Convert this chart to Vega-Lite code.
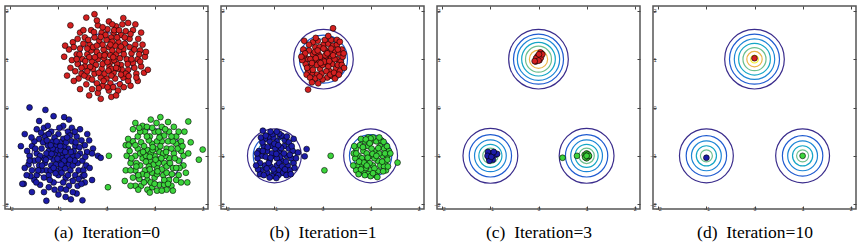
{
"$schema":"https://vega.github.io/schema/vega-lite/v6.json",
"background":"white",
"padding":{"left":0,"top":4,"right":0,"bottom":0},
"spacing":6,
"config":{"view":{"stroke":"#555","strokeWidth":1.5},
"axis":{"grid":false,"domain":false,"labelFont":"Liberation Sans","labelFontSize":5.5,"labelColor":"#444","tickColor":"#444","tickSize":-3,"tickWidth":1,"labelPadding":0,"titleFont":"Liberation Serif, Times New Roman, serif","titleFontSize":17.5,"titleFontWeight":"normal","titleColor":"#000","titlePadding":12}},
"datasets":{
"ra":[{"x":0,"y":1,"r":0.55,"l":1},{"x":-1,"y":-1,"r":0.55,"l":1},{"x":1.02,"y":-1,"r":0.56,"l":1}],
"rb":[{"x":0.02,"y":1,"r":0.62,"l":1},{"x":0.02,"y":1,"r":0.5,"l":2},{"x":0.02,"y":1,"r":0.42,"l":3},
{"x":-1,"y":-1,"r":0.56,"l":1},{"x":-1,"y":-1,"r":0.44,"l":2},{"x":-1,"y":-1,"r":0.36,"l":3},
{"x":1,"y":-1,"r":0.56,"l":1},{"x":1,"y":-1,"r":0.44,"l":2},{"x":1,"y":-1,"r":0.36,"l":3}],
"rc":[{"x":0,"y":1,"r":0.62,"l":1},{"x":0,"y":1,"r":0.52,"l":2},{"x":0,"y":1,"r":0.44,"l":3},{"x":0,"y":1,"r":0.35,"l":4},{"x":0,"y":1,"r":0.27,"l":5},{"x":0,"y":1,"r":0.19,"l":6},
{"x":-1,"y":-1,"r":0.57,"l":1},{"x":-1,"y":-1,"r":0.44,"l":2},{"x":-1,"y":-1,"r":0.33,"l":3},{"x":-1,"y":-1,"r":0.24,"l":4},{"x":-1,"y":-1,"r":0.16,"l":5},
{"x":1,"y":-1,"r":0.57,"l":1},{"x":1,"y":-1,"r":0.44,"l":2},{"x":1,"y":-1,"r":0.33,"l":3},{"x":1,"y":-1,"r":0.24,"l":4},{"x":1,"y":-1,"r":0.16,"l":5}],
"rd":[{"x":0,"y":1,"r":0.62,"l":1},{"x":0,"y":1,"r":0.52,"l":2},{"x":0,"y":1,"r":0.42,"l":3},{"x":0,"y":1,"r":0.33,"l":4},{"x":0,"y":1,"r":0.24,"l":5},{"x":0,"y":1,"r":0.16,"l":6},{"x":0,"y":1,"r":0.08,"l":7},
{"x":-1,"y":-1,"r":0.56,"l":1},{"x":-1,"y":-1,"r":0.42,"l":2},{"x":-1,"y":-1,"r":0.31,"l":3},{"x":-1,"y":-1,"r":0.21,"l":4},{"x":-1,"y":-1,"r":0.125,"l":5},
{"x":1,"y":-1,"r":0.56,"l":1},{"x":1,"y":-1,"r":0.42,"l":2},{"x":1,"y":-1,"r":0.31,"l":3},{"x":1,"y":-1,"r":0.21,"l":4},{"x":1,"y":-1,"r":0.125,"l":5}],
"pa":[
{"k":"r","x":-0.05,"y":1.02},{"k":"r","x":0.1,"y":0.95},{"k":"r","x":0.2,"y":1.1},{"k":"r","x":-0.2,"y":1.15},{"k":"r","x":-0.3,"y":0.95},{"k":"r","x":0.3,"y":0.88},{"k":"r","x":0.05,"y":1.25},{"k":"r","x":-0.1,"y":0.8},{"k":"r","x":0.15,"y":0.72},{"k":"r","x":-0.25,"y":0.7},
{"k":"r","x":0.35,"y":1.2},{"k":"r","x":-0.4,"y":1.1},{"k":"r","x":0.42,"y":1.0},{"k":"r","x":-0.45,"y":0.85},{"k":"r","x":0.0,"y":0.6},{"k":"r","x":0.25,"y":1.35},{"k":"r","x":-0.15,"y":1.38},{"k":"r","x":0.1,"y":1.45},{"k":"r","x":-0.35,"y":1.3},{"k":"r","x":0.45,"y":0.78},
{"k":"r","x":-0.02,"y":1.12},{"k":"r","x":0.12,"y":1.18},{"k":"r","x":0.28,"y":1.02},{"k":"r","x":-0.18,"y":1.0},{"k":"r","x":-0.08,"y":0.9},{"k":"r","x":0.06,"y":0.85},{"k":"r","x":0.22,"y":0.9},{"k":"r","x":-0.32,"y":1.18},{"k":"r","x":0.38,"y":1.32},{"k":"r","x":-0.5,"y":1.0},
{"k":"r","x":0.52,"y":1.12},{"k":"r","x":-0.55,"y":1.22},{"k":"r","x":0.55,"y":0.92},{"k":"r","x":-0.6,"y":0.9},{"k":"r","x":0.18,"y":0.6},{"k":"r","x":-0.12,"y":0.62},{"k":"r","x":-0.38,"y":0.62},{"k":"r","x":0.35,"y":0.62},{"k":"r","x":0.0,"y":1.4},{"k":"r","x":-0.25,"y":1.45},
{"k":"r","x":0.3,"y":1.5},{"k":"r","x":-0.45,"y":1.45},{"k":"r","x":0.48,"y":1.42},{"k":"r","x":0.6,"y":1.3},{"k":"r","x":-0.62,"y":1.1},{"k":"r","x":0.65,"y":1.0},{"k":"r","x":-0.65,"y":0.75},{"k":"r","x":0.62,"y":0.7},{"k":"r","x":0.08,"y":0.5},{"k":"r","x":-0.2,"y":0.5},
{"k":"r","x":0.28,"y":0.48},{"k":"r","x":-0.42,"y":0.48},{"k":"r","x":0.45,"y":0.55},{"k":"r","x":0.7,"y":1.18},{"k":"r","x":-0.7,"y":1.35},{"k":"r","x":0.15,"y":1.55},{"k":"r","x":-0.1,"y":1.55},{"k":"r","x":0.4,"y":1.58},{"k":"r","x":-0.32,"y":1.6},{"k":"r","x":0.02,"y":1.62},
{"k":"r","x":0.2,"y":1.68},{"k":"r","x":-0.18,"y":1.7},{"k":"r","x":0.55,"y":1.6},{"k":"r","x":-0.55,"y":1.55},{"k":"r","x":0.72,"y":0.85},{"k":"r","x":-0.72,"y":0.98},{"k":"r","x":0.8,"y":1.05},{"k":"r","x":-0.78,"y":1.2},{"k":"r","x":0.05,"y":0.35},{"k":"r","x":-0.3,"y":0.38},
{"k":"r","x":-0.06,"y":1.2},{"k":"r","x":0.08,"y":1.08},{"k":"r","x":0.16,"y":0.98},{"k":"r","x":-0.14,"y":1.08},{"k":"r","x":-0.22,"y":0.88},{"k":"r","x":0.02,"y":0.94},{"k":"r","x":0.32,"y":0.78},{"k":"r","x":-0.28,"y":0.8},{"k":"r","x":0.1,"y":0.8},{"k":"r","x":-0.04,"y":0.7},
{"k":"r","x":0.24,"y":0.8},{"k":"r","x":-0.36,"y":1.04},{"k":"r","x":0.36,"y":1.1},{"k":"r","x":0.18,"y":1.28},{"k":"r","x":-0.08,"y":1.3},{"k":"r","x":-0.28,"y":1.25},{"k":"r","x":0.48,"y":1.25},{"k":"r","x":-0.48,"y":1.32},{"k":"r","x":0.26,"y":1.18},{"k":"r","x":-0.16,"y":0.72},
{"k":"r","x":0.4,"y":0.7},{"k":"r","x":-0.52,"y":0.7},{"k":"r","x":0.58,"y":0.82},{"k":"r","x":-0.58,"y":0.6},{"k":"r","x":0.5,"y":0.45},{"k":"r","x":0.14,"y":0.42},{"k":"r","x":-0.08,"y":0.45},{"k":"r","x":0.12,"y":1.36},{"k":"r","x":-0.02,"y":1.5},{"k":"r","x":0.38,"y":1.45},
{"k":"r","x":-0.4,"y":1.22},{"k":"r","x":-0.6,"y":1.42},{"k":"r","x":0.66,"y":1.42},{"k":"r","x":0.75,"y":1.3},{"k":"r","x":-0.75,"y":0.82},{"k":"r","x":0.78,"y":0.72},{"k":"r","x":-0.68,"y":0.55},{"k":"r","x":0.24,"y":0.35},{"k":"r","x":-0.18,"y":0.3},{"k":"r","x":0.33,"y":1.72},
{"k":"r","x":-0.75,"y":1.7},{"k":"r","x":-0.42,"y":1.86},{"k":"r","x":-0.2,"y":1.8},{"k":"r","x":0.05,"y":1.78},{"k":"r","x":0.45,"y":1.75},{"k":"r","x":0.6,"y":1.72},{"k":"r","x":-0.86,"y":1.28},{"k":"r","x":0.86,"y":0.78},{"k":"r","x":-0.82,"y":0.66},{"k":"r","x":-0.36,"y":0.25},
{"k":"r","x":-0.12,"y":0.18},{"k":"r","x":0.1,"y":0.22},{"k":"r","x":0.2,"y":0.25},{"k":"r","x":-0.55,"y":0.38},{"k":"r","x":0.35,"y":1.85},{"k":"r","x":-0.25,"y":1.93},{"k":"r","x":0.72,"y":1.55},{"k":"r","x":0.82,"y":1.15},{"k":"r","x":-0.88,"y":1.05},{"k":"r","x":0.65,"y":0.55},
{"k":"r","x":-0.04,"y":1.08},{"k":"r","x":0.14,"y":1.04},{"k":"r","x":-0.24,"y":1.04},{"k":"r","x":0.04,"y":0.76},{"k":"r","x":-0.34,"y":0.84},{"k":"r","x":0.2,"y":0.82},{"k":"r","x":0.44,"y":0.9},{"k":"r","x":-0.44,"y":0.96},{"k":"r","x":0.3,"y":1.26},{"k":"r","x":-0.2,"y":1.28},
{"k":"r","x":0.08,"y":1.3},{"k":"r","x":-0.12,"y":1.46},{"k":"r","x":0.22,"y":1.45},{"k":"r","x":-0.38,"y":1.4},{"k":"r","x":0.52,"y":1.0},{"k":"r","x":-0.56,"y":1.1},{"k":"r","x":0.58,"y":1.2},{"k":"r","x":-0.52,"y":0.82},{"k":"r","x":0.1,"y":0.66},{"k":"r","x":-0.3,"y":0.58},
{"k":"r","x":0.3,"y":0.68},{"k":"r","x":-0.06,"y":0.55},{"k":"r","x":0.46,"y":0.65},{"k":"r","x":0.16,"y":1.6},{"k":"r","x":-0.26,"y":1.56},{"k":"r","x":0.5,"y":1.52},{"k":"r","x":-0.48,"y":1.6},{"k":"r","x":0.68,"y":1.1},{"k":"r","x":-0.68,"y":1.25},{"k":"r","x":0.02,"y":0.42},
{"k":"r","x":-0.16,"y":0.4},{"k":"r","x":0.36,"y":0.42},{"k":"r","x":-0.46,"y":0.66},{"k":"r","x":0.62,"y":0.62},{"k":"r","x":0.12,"y":1.72},{"k":"r","x":-0.08,"y":1.66},{"k":"r","x":0.26,"y":1.6},{"k":"r","x":-0.62,"y":1.0},{"k":"r","x":0.7,"y":0.95},{"k":"r","x":-0.4,"y":0.75},
{"k":"b","x":-1.0,"y":-1.0},{"k":"b","x":-0.9,"y":-0.95},{"k":"b","x":-1.1,"y":-1.08},{"k":"b","x":-0.85,"y":-1.15},{"k":"b","x":-1.2,"y":-0.9},{"k":"b","x":-0.95,"y":-1.25},{"k":"b","x":-1.15,"y":-1.2},{"k":"b","x":-0.8,"y":-0.85},{"k":"b","x":-1.05,"y":-0.8},{"k":"b","x":-1.3,"y":-1.05},
{"k":"b","x":-0.7,"y":-1.0},{"k":"b","x":-1.25,"y":-1.3},{"k":"b","x":-0.75,"y":-1.3},{"k":"b","x":-1.0,"y":-1.4},{"k":"b","x":-1.35,"y":-0.85},{"k":"b","x":-0.65,"y":-0.8},{"k":"b","x":-1.12,"y":-0.7},{"k":"b","x":-0.9,"y":-0.65},{"k":"b","x":-1.4,"y":-1.2},{"k":"b","x":-0.6,"y":-1.15},
{"k":"b","x":-0.98,"y":-1.12},{"k":"b","x":-1.08,"y":-0.95},{"k":"b","x":-0.92,"y":-1.05},{"k":"b","x":-1.18,"y":-1.02},{"k":"b","x":-0.82,"y":-1.02},{"k":"b","x":-1.02,"y":-0.88},{"k":"b","x":-0.88,"y":-0.8},{"k":"b","x":-1.22,"y":-0.78},{"k":"b","x":-0.72,"y":-0.7},{"k":"b","x":-1.45,"y":-0.95},
{"k":"b","x":-0.55,"y":-0.95},{"k":"b","x":-1.5,"y":-1.1},{"k":"b","x":-0.58,"y":-1.3},{"k":"b","x":-1.3,"y":-1.45},{"k":"b","x":-0.85,"y":-1.45},{"k":"b","x":-1.1,"y":-1.55},{"k":"b","x":-0.7,"y":-1.52},{"k":"b","x":-1.45,"y":-1.4},{"k":"b","x":-0.5,"y":-1.1},{"k":"b","x":-1.55,"y":-0.8},
{"k":"b","x":-0.62,"y":-0.6},{"k":"b","x":-1.28,"y":-0.6},{"k":"b","x":-1.0,"y":-0.55},{"k":"b","x":-0.8,"y":-0.5},{"k":"b","x":-1.4,"y":-0.65},{"k":"b","x":-0.45,"y":-0.78},{"k":"b","x":-1.6,"y":-1.0},{"k":"b","x":-0.5,"y":-1.42},{"k":"b","x":-1.2,"y":-1.65},{"k":"b","x":-0.95,"y":-1.68},
{"k":"b","x":-0.78,"y":-1.62},{"k":"b","x":-1.38,"y":-1.6},{"k":"b","x":-0.6,"y":-1.62},{"k":"b","x":-1.55,"y":-1.3},{"k":"b","x":-0.42,"y":-1.2},{"k":"b","x":-1.62,"y":-1.18},{"k":"b","x":-1.15,"y":-0.5},{"k":"b","x":-0.72,"y":-0.42},{"k":"b","x":-0.9,"y":-0.38},{"k":"b","x":-1.3,"y":-0.42},
{"k":"b","x":-1.05,"y":-1.3},{"k":"b","x":-0.93,"y":-1.35},{"k":"b","x":-1.2,"y":-1.4},{"k":"b","x":-1.35,"y":-1.3},{"k":"b","x":-0.65,"y":-1.4},{"k":"b","x":-0.78,"y":-1.18},{"k":"b","x":-1.28,"y":-1.15},{"k":"b","x":-0.68,"y":-0.9},{"k":"b","x":-1.38,"y":-1.0},{"k":"b","x":-1.12,"y":-0.85},
{"k":"b","x":-0.95,"y":-0.88},{"k":"b","x":-0.84,"y":-0.72},{"k":"b","x":-1.08,"y":-0.62},{"k":"b","x":-0.76,"y":-0.58},{"k":"b","x":-1.2,"y":-0.55},{"k":"b","x":-0.52,"y":-0.68},{"k":"b","x":-0.4,"y":-0.92},{"k":"b","x":-1.5,"y":-0.7},{"k":"b","x":-1.65,"y":-0.9},{"k":"b","x":-1.5,"y":-1.5},
{"k":"b","x":-1.05,"y":-1.18},{"k":"b","x":-0.86,"y":-1.26},{"k":"b","x":-1.16,"y":-1.3},{"k":"b","x":-0.7,"y":-1.2},{"k":"b","x":-1.25,"y":-0.95},{"k":"b","x":-0.97,"y":-0.72},{"k":"b","x":-0.6,"y":-1.0},{"k":"b","x":-1.42,"y":-1.08},{"k":"b","x":-0.48,"y":-1.3},{"k":"b","x":-1.58,"y":-1.42},
{"k":"b","x":-0.62,"y":-1.78},{"k":"b","x":-1.0,"y":-1.8},{"k":"b","x":-1.3,"y":-1.75},{"k":"b","x":-0.85,"y":-1.85},{"k":"b","x":-0.45,"y":-1.55},{"k":"b","x":-1.7,"y":-1.25},{"k":"b","x":-1.72,"y":-1.58},{"k":"b","x":-0.4,"y":-0.55},{"k":"b","x":-0.55,"y":-0.45},{"k":"b","x":-1.45,"y":-0.45},
{"k":"b","x":-1.6,"y":0.0},{"k":"b","x":-1.27,"y":-0.05},{"k":"b","x":-1.1,"y":-0.18},{"k":"b","x":-0.88,"y":-0.2},{"k":"b","x":-0.78,"y":-0.25},{"k":"b","x":-1.4,"y":-0.28},{"k":"b","x":-0.28,"y":-0.85},{"k":"b","x":-0.3,"y":-0.95},{"k":"b","x":-0.18,"y":-1.0},{"k":"b","x":-0.12,"y":-1.04},
{"k":"b","x":-0.35,"y":-1.25},{"k":"b","x":-0.3,"y":-1.5},{"k":"b","x":-1.25,"y":-1.93},{"k":"b","x":-1.75,"y":-1.58},{"k":"b","x":-1.78,"y":-0.8},{"k":"b","x":-1.7,"y":-0.55},{"k":"b","x":-0.5,"y":-1.92},{"k":"b","x":-1.55,"y":-1.75},{"k":"b","x":-0.7,"y":-1.75},{"k":"b","x":-0.36,"y":-0.68},
{"k":"b","x":-1.02,"y":-1.06},{"k":"b","x":-0.88,"y":-1.1},{"k":"b","x":-1.14,"y":-0.96},{"k":"b","x":-0.96,"y":-0.8},{"k":"b","x":-1.26,"y":-1.08},{"k":"b","x":-0.74,"y":-0.92},{"k":"b","x":-1.06,"y":-1.36},{"k":"b","x":-0.8,"y":-1.4},{"k":"b","x":-1.32,"y":-0.72},{"k":"b","x":-0.64,"y":-0.72},
{"k":"b","x":-1.18,"y":-1.5},{"k":"b","x":-0.9,"y":-1.55},{"k":"b","x":-1.42,"y":-1.3},{"k":"b","x":-0.58,"y":-1.48},{"k":"b","x":-1.48,"y":-0.85},{"k":"b","x":-0.56,"y":-0.82},{"k":"b","x":-1.04,"y":-0.7},{"k":"b","x":-0.82,"y":-0.62},{"k":"b","x":-1.24,"y":-0.68},{"k":"b","x":-0.66,"y":-1.1},
{"k":"b","x":-1.34,"y":-1.2},{"k":"b","x":-0.76,"y":-1.08},{"k":"b","x":-1.1,"y":-1.25},{"k":"b","x":-0.94,"y":-1.18},{"k":"b","x":-1.16,"y":-0.78},{"k":"b","x":-0.86,"y":-0.92},{"k":"b","x":-1.46,"y":-1.55},{"k":"b","x":-0.52,"y":-1.58},{"k":"b","x":-1.36,"y":-0.52},{"k":"b","x":-0.66,"y":-0.5},
{"k":"b","x":-1.6,"y":-1.1},{"k":"b","x":-0.44,"y":-1.02},{"k":"b","x":-1.08,"y":-1.7},{"k":"b","x":-0.84,"y":-1.7},{"k":"b","x":-1.22,"y":-0.38},{"k":"b","x":-0.98,"y":-0.42},{"k":"b","x":-1.56,"y":-0.62},{"k":"b","x":-0.46,"y":-1.4},{"k":"b","x":-1.66,"y":-1.4},{"k":"b","x":-0.74,"y":-1.9},
{"k":"g","x":1.0,"y":-1.0},{"k":"g","x":1.1,"y":-0.92},{"k":"g","x":0.9,"y":-1.1},{"k":"g","x":1.2,"y":-1.15},{"k":"g","x":0.85,"y":-0.88},{"k":"g","x":1.05,"y":-1.25},{"k":"g","x":0.95,"y":-0.75},{"k":"g","x":1.25,"y":-0.85},{"k":"g","x":0.75,"y":-1.05},{"k":"g","x":1.3,"y":-1.05},
{"k":"g","x":1.15,"y":-0.7},{"k":"g","x":0.8,"y":-1.3},{"k":"g","x":1.38,"y":-1.25},{"k":"g","x":0.65,"y":-0.85},{"k":"g","x":1.0,"y":-1.45},{"k":"g","x":1.18,"y":-1.4},{"k":"g","x":0.7,"y":-1.2},{"k":"g","x":1.4,"y":-0.95},{"k":"g","x":0.9,"y":-0.6},{"k":"g","x":1.12,"y":-0.58},
{"k":"g","x":1.02,"y":-0.85},{"k":"g","x":0.92,"y":-0.95},{"k":"g","x":1.08,"y":-1.08},{"k":"g","x":0.98,"y":-1.18},{"k":"g","x":1.22,"y":-1.0},{"k":"g","x":0.82,"y":-1.0},{"k":"g","x":1.15,"y":-1.28},{"k":"g","x":0.88,"y":-1.22},{"k":"g","x":1.28,"y":-0.7},{"k":"g","x":0.72,"y":-0.72},
{"k":"g","x":0.6,"y":-1.0},{"k":"g","x":1.45,"y":-0.75},{"k":"g","x":0.6,"y":-1.3},{"k":"g","x":1.5,"y":-1.1},{"k":"g","x":0.85,"y":-1.5},{"k":"g","x":1.3,"y":-1.5},{"k":"g","x":0.68,"y":-1.48},{"k":"g","x":1.5,"y":-1.4},{"k":"g","x":0.55,"y":-0.7},{"k":"g","x":0.8,"y":-0.5},
{"k":"g","x":1.0,"y":-0.5},{"k":"g","x":1.3,"y":-0.5},{"k":"g","x":1.55,"y":-0.9},{"k":"g","x":0.5,"y":-1.15},{"k":"g","x":1.1,"y":-1.6},{"k":"g","x":0.95,"y":-1.65},{"k":"g","x":0.72,"y":-1.62},{"k":"g","x":1.35,"y":-1.62},{"k":"g","x":1.6,"y":-1.2},{"k":"g","x":0.48,"y":-0.9},
{"k":"g","x":1.05,"y":-0.7},{"k":"g","x":0.95,"y":-1.35},{"k":"g","x":1.25,"y":-1.22},{"k":"g","x":0.78,"y":-0.8},{"k":"g","x":1.35,"y":-0.85},{"k":"g","x":1.12,"y":-0.8},{"k":"g","x":0.88,"y":-0.68},{"k":"g","x":1.2,"y":-0.58},{"k":"g","x":0.65,"y":-0.6},{"k":"g","x":1.45,"y":-0.6},
{"k":"g","x":1.05,"y":-1.38},{"k":"g","x":0.9,"y":-1.28},{"k":"g","x":0.7,"y":-0.95},{"k":"g","x":1.32,"y":-1.15},{"k":"g","x":1.18,"y":-0.95},{"k":"g","x":0.96,"y":-0.88},{"k":"g","x":1.08,"y":-1.15},{"k":"g","x":1.42,"y":-1.05},{"k":"g","x":0.62,"y":-1.15},{"k":"g","x":0.82,"y":-1.12},
{"k":"g","x":1.25,"y":-1.35},{"k":"g","x":0.75,"y":-1.38},{"k":"g","x":0.55,"y":-1.45},{"k":"g","x":1.45,"y":-1.5},{"k":"g","x":1.6,"y":-1.0},{"k":"g","x":1.55,"y":-0.7},{"k":"g","x":0.42,"y":-1.0},{"k":"g","x":0.4,"y":-1.3},{"k":"g","x":0.45,"y":-0.65},{"k":"g","x":1.2,"y":-1.6},
{"k":"g","x":0.6,"y":-1.62},{"k":"g","x":0.85,"y":-1.7},{"k":"g","x":1.05,"y":-1.72},{"k":"g","x":1.25,"y":-1.7},{"k":"g","x":0.95,"y":-0.42},{"k":"g","x":1.15,"y":-0.4},{"k":"g","x":0.75,"y":-0.38},{"k":"g","x":1.4,"y":-0.4},{"k":"g","x":0.55,"y":-0.45},{"k":"g","x":1.62,"y":-0.5},
{"k":"g","x":1.12,"y":-0.2},{"k":"g","x":0.92,"y":-0.25},{"k":"g","x":1.28,"y":-0.3},{"k":"g","x":0.6,"y":-0.32},{"k":"g","x":1.7,"y":-0.29},{"k":"g","x":1.75,"y":-0.72},{"k":"g","x":2.0,"y":-0.87},{"k":"g","x":1.92,"y":-1.08},{"k":"g","x":0.05,"y":-1.0},{"k":"g","x":0.03,"y":-1.65},
{"k":"g","x":0.38,"y":-1.52},{"k":"g","x":0.4,"y":-0.78},{"k":"g","x":1.65,"y":-1.35},{"k":"g","x":1.68,"y":-1.55},{"k":"g","x":0.5,"y":-1.62},{"k":"g","x":1.7,"y":-0.95},
{"k":"g","x":1.02,"y":-1.08},{"k":"g","x":0.9,"y":-1.02},{"k":"g","x":1.14,"y":-1.05},{"k":"g","x":0.96,"y":-0.82},{"k":"g","x":1.24,"y":-0.92},{"k":"g","x":0.76,"y":-0.92},{"k":"g","x":1.06,"y":-1.32},{"k":"g","x":0.84,"y":-1.4},{"k":"g","x":1.36,"y":-1.38},{"k":"g","x":0.66,"y":-1.4},
{"k":"g","x":1.1,"y":-0.62},{"k":"g","x":0.84,"y":-0.6},{"k":"g","x":1.38,"y":-0.7},{"k":"g","x":0.6,"y":-0.78},{"k":"g","x":1.48,"y":-0.85},{"k":"g","x":0.52,"y":-1.05},{"k":"g","x":1.52,"y":-1.25},{"k":"g","x":0.62,"y":-1.22},{"k":"g","x":1.2,"y":-1.5},{"k":"g","x":0.92,"y":-1.55},
{"k":"g","x":1.08,"y":-0.5},{"k":"g","x":0.7,"y":-0.5},{"k":"g","x":1.35,"y":-0.6},{"k":"g","x":1.45,"y":-1.25},{"k":"g","x":0.78,"y":-1.55},{"k":"g","x":1.28,"y":-1.58},{"k":"g","x":1.0,"y":-1.58},{"k":"g","x":0.5,"y":-1.3},{"k":"g","x":1.58,"y":-0.8},{"k":"g","x":0.46,"y":-0.78},
{"k":"g","x":1.04,"y":-0.32},{"k":"g","x":0.84,"y":-0.4},{"k":"g","x":1.22,"y":-0.45},{"k":"g","x":0.68,"y":-0.42},{"k":"g","x":1.5,"y":-0.5},{"k":"g","x":1.55,"y":-1.55},{"k":"g","x":0.66,"y":-1.7},{"k":"g","x":1.15,"y":-1.72},{"k":"g","x":0.9,"y":-1.76},{"k":"g","x":1.38,"y":-1.72}],
"pb":[
{"k":"r","x":0.0,"y":1.0},{"k":"r","x":0.1,"y":1.05},{"k":"r","x":-0.1,"y":0.95},{"k":"r","x":0.2,"y":0.9},{"k":"r","x":-0.2,"y":1.1},{"k":"r","x":0.05,"y":1.2},{"k":"r","x":-0.05,"y":0.8},{"k":"r","x":0.25,"y":1.15},{"k":"r","x":-0.25,"y":0.85},{"k":"r","x":0.15,"y":0.75},
{"k":"r","x":-0.15,"y":1.25},{"k":"r","x":0.3,"y":1.0},{"k":"r","x":-0.3,"y":1.0},{"k":"r","x":0.08,"y":0.9},{"k":"r","x":-0.08,"y":1.1},{"k":"r","x":0.18,"y":1.02},{"k":"r","x":-0.18,"y":0.98},{"k":"r","x":0.02,"y":1.3},{"k":"r","x":-0.02,"y":0.7},{"k":"r","x":0.28,"y":0.8},
{"k":"r","x":-0.28,"y":1.18},{"k":"r","x":0.35,"y":1.12},{"k":"r","x":-0.35,"y":0.9},{"k":"r","x":0.12,"y":1.32},{"k":"r","x":-0.12,"y":0.68},{"k":"r","x":0.22,"y":1.28},{"k":"r","x":-0.22,"y":0.72},{"k":"r","x":0.38,"y":0.95},{"k":"r","x":-0.38,"y":1.08},{"k":"r","x":0.3,"y":1.3},
{"k":"r","x":-0.3,"y":0.75},{"k":"r","x":0.1,"y":0.62},{"k":"r","x":-0.1,"y":1.38},{"k":"r","x":0.2,"y":0.65},{"k":"r","x":-0.2,"y":1.35},{"k":"r","x":0.4,"y":1.2},{"k":"r","x":-0.4,"y":1.2},{"k":"r","x":0.36,"y":0.75},{"k":"r","x":-0.15,"y":0.6},{"k":"r","x":0.05,"y":1.4},
{"k":"r","x":0.12,"y":0.85},{"k":"r","x":-0.05,"y":1.05},{"k":"r","x":0.0,"y":0.88},{"k":"r","x":0.15,"y":1.15},{"k":"r","x":-0.12,"y":0.88},{"k":"r","x":0.25,"y":1.0},{"k":"r","x":-0.25,"y":1.0},{"k":"r","x":0.06,"y":1.08},{"k":"r","x":-0.16,"y":1.15},{"k":"r","x":0.32,"y":0.88},
{"k":"r","x":0.42,"y":1.05},{"k":"r","x":-0.42,"y":0.98},{"k":"r","x":0.18,"y":1.4},{"k":"r","x":-0.28,"y":1.3},{"k":"r","x":0.0,"y":0.58},{"k":"r","x":0.26,"y":0.6},{"k":"r","x":-0.06,"y":1.25},{"k":"r","x":0.08,"y":0.75},{"k":"r","x":-0.33,"y":0.68},{"k":"r","x":0.3,"y":1.4},
{"k":"r","x":0.04,"y":0.95},{"k":"r","x":-0.04,"y":0.92},{"k":"r","x":0.14,"y":0.96},{"k":"r","x":-0.14,"y":1.02},{"k":"r","x":0.22,"y":1.08},{"k":"r","x":-0.22,"y":0.92},{"k":"r","x":0.1,"y":1.12},{"k":"r","x":-0.1,"y":1.18},{"k":"r","x":0.32,"y":1.2},{"k":"r","x":-0.32,"y":0.82},
{"k":"r","x":0.16,"y":0.68},{"k":"r","x":-0.06,"y":0.64},{"k":"r","x":0.24,"y":0.72},{"k":"r","x":-0.36,"y":1.12},{"k":"r","x":0.4,"y":0.88},{"k":"r","x":0.02,"y":1.22},{"k":"r","x":0.18,"y":1.22},{"k":"r","x":-0.2,"y":0.78},{"k":"r","x":0.34,"y":0.68},{"k":"r","x":-0.26,"y":0.62},
{"k":"r","x":0.12,"y":1.48},{"k":"r","x":-0.14,"y":1.44},{"k":"r","x":0.36,"y":1.36},{"k":"r","x":-0.44,"y":1.05},{"k":"r","x":0.44,"y":1.12},
{"k":"r","x":0.22,"y":1.64},{"k":"r","x":-0.3,"y":0.37},{"k":"r","x":-0.22,"y":0.52},{"k":"r","x":-0.09,"y":0.5},{"k":"r","x":-0.38,"y":1.38},{"k":"r","x":0.45,"y":0.82},
{"k":"b","x":-1.0,"y":-1.0},{"k":"b","x":-0.9,"y":-0.9},{"k":"b","x":-1.1,"y":-1.1},{"k":"b","x":-0.85,"y":-1.1},{"k":"b","x":-1.15,"y":-0.9},{"k":"b","x":-0.95,"y":-1.2},{"k":"b","x":-1.05,"y":-0.8},{"k":"b","x":-0.75,"y":-1.0},{"k":"b","x":-1.25,"y":-1.0},{"k":"b","x":-0.8,"y":-0.8},
{"k":"b","x":-1.2,"y":-1.2},{"k":"b","x":-0.9,"y":-1.3},{"k":"b","x":-1.1,"y":-0.7},{"k":"b","x":-0.7,"y":-0.85},{"k":"b","x":-1.3,"y":-1.15},{"k":"b","x":-0.72,"y":-1.2},{"k":"b","x":-1.22,"y":-0.8},{"k":"b","x":-1.0,"y":-1.35},{"k":"b","x":-0.95,"y":-0.7},{"k":"b","x":-0.82,"y":-1.35},
{"k":"b","x":-1.15,"y":-1.35},{"k":"b","x":-1.32,"y":-0.9},{"k":"b","x":-0.65,"y":-1.05},{"k":"b","x":-0.98,"y":-0.85},{"k":"b","x":-1.08,"y":-1.22},{"k":"b","x":-0.88,"y":-1.02},{"k":"b","x":-1.18,"y":-1.02},{"k":"b","x":-0.78,"y":-0.68},{"k":"b","x":-1.02,"y":-0.62},{"k":"b","x":-1.28,"y":-1.3},
{"k":"b","x":-0.62,"y":-0.9},{"k":"b","x":-0.68,"y":-1.3},{"k":"b","x":-1.35,"y":-1.05},{"k":"b","x":-0.92,"y":-1.4},{"k":"b","x":-1.12,"y":-0.6},{"k":"b","x":-0.88,"y":-0.6},{"k":"b","x":-1.2,"y":-0.65},{"k":"b","x":-0.6,"y":-1.15},{"k":"b","x":-1.05,"y":-1.42},{"k":"b","x":-0.85,"y":-0.58},
{"k":"b","x":-0.95,"y":-1.05},{"k":"b","x":-1.05,"y":-0.95},{"k":"b","x":-0.8,"y":-0.95},{"k":"b","x":-1.12,"y":-1.15},{"k":"b","x":-0.9,"y":-1.15},{"k":"b","x":-1.25,"y":-0.72},{"k":"b","x":-0.75,"y":-1.4},{"k":"b","x":-1.3,"y":-1.38},{"k":"b","x":-0.7,"y":-0.72},{"k":"b","x":-1.0,"y":-0.75},
{"k":"b","x":-0.96,"y":-0.96},{"k":"b","x":-1.08,"y":-1.04},{"k":"b","x":-0.86,"y":-0.84},{"k":"b","x":-1.16,"y":-1.26},{"k":"b","x":-0.76,"y":-1.12},{"k":"b","x":-1.24,"y":-0.9},{"k":"b","x":-0.84,"y":-1.22},{"k":"b","x":-1.02,"y":-1.28},{"k":"b","x":-0.92,"y":-0.78},{"k":"b","x":-1.14,"y":-0.82},
{"k":"b","x":-0.68,"y":-0.98},{"k":"b","x":-1.36,"y":-0.95},{"k":"b","x":-0.78,"y":-1.28},{"k":"b","x":-1.1,"y":-1.45},{"k":"b","x":-0.64,"y":-0.8},{"k":"b","x":-1.28,"y":-0.62},{"k":"b","x":-0.96,"y":-1.46},{"k":"b","x":-1.18,"y":-0.58},{"k":"b","x":-0.74,"y":-0.6},{"k":"b","x":-0.58,"y":-1.25},
{"k":"b","x":-1.34,"y":-1.28},{"k":"b","x":-0.9,"y":-0.54},{"k":"b","x":-1.04,"y":-0.55},{"k":"b","x":-0.66,"y":-1.38},{"k":"b","x":-1.22,"y":-1.4},
{"k":"b","x":-1.24,"y":-0.48},{"k":"b","x":-1.08,"y":-0.5},{"k":"b","x":-0.95,"y":-0.5},{"k":"b","x":-0.51,"y":-0.93},{"k":"b","x":-0.33,"y":-0.86},{"k":"b","x":-0.37,"y":-1.01},{"k":"b","x":-0.55,"y":-1.05},{"k":"b","x":-1.38,"y":-1.2},{"k":"b","x":-0.6,"y":-0.65},
{"k":"g","x":1.0,"y":-1.0},{"k":"g","x":1.1,"y":-0.9},{"k":"g","x":0.9,"y":-1.1},{"k":"g","x":1.15,"y":-1.1},{"k":"g","x":0.85,"y":-0.9},{"k":"g","x":1.05,"y":-1.2},{"k":"g","x":0.95,"y":-0.8},{"k":"g","x":1.25,"y":-1.0},{"k":"g","x":0.75,"y":-1.0},{"k":"g","x":1.2,"y":-0.8},
{"k":"g","x":0.8,"y":-1.2},{"k":"g","x":1.0,"y":-1.3},{"k":"g","x":1.0,"y":-0.72},{"k":"g","x":1.3,"y":-1.15},{"k":"g","x":0.7,"y":-0.85},{"k":"g","x":1.28,"y":-0.85},{"k":"g","x":0.72,"y":-1.2},{"k":"g","x":1.15,"y":-1.32},{"k":"g","x":0.85,"y":-1.32},{"k":"g","x":0.88,"y":-0.7},
{"k":"g","x":1.12,"y":-0.7},{"k":"g","x":1.35,"y":-1.0},{"k":"g","x":0.68,"y":-1.05},{"k":"g","x":0.92,"y":-0.95},{"k":"g","x":1.08,"y":-1.05},{"k":"g","x":0.98,"y":-1.15},{"k":"g","x":1.02,"y":-0.85},{"k":"g","x":1.2,"y":-1.2},{"k":"g","x":0.82,"y":-1.05},{"k":"g","x":1.18,"y":-0.95},
{"k":"g","x":0.78,"y":-0.78},{"k":"g","x":1.22,"y":-0.68},{"k":"g","x":0.95,"y":-1.38},{"k":"g","x":1.1,"y":-1.4},{"k":"g","x":0.7,"y":-1.3},{"k":"g","x":1.32,"y":-1.3},{"k":"g","x":0.65,"y":-0.95},{"k":"g","x":0.9,"y":-1.25},{"k":"g","x":1.05,"y":-0.62},{"k":"g","x":0.8,"y":-0.65},
{"k":"g","x":1.28,"y":-1.22},{"k":"g","x":0.75,"y":-1.38},{"k":"g","x":1.38,"y":-0.9},{"k":"g","x":1.0,"y":-1.42},{"k":"g","x":0.95,"y":-0.62},
{"k":"g","x":1.04,"y":-0.96},{"k":"g","x":0.94,"y":-1.04},{"k":"g","x":1.12,"y":-1.0},{"k":"g","x":0.86,"y":-1.14},{"k":"g","x":1.16,"y":-0.84},{"k":"g","x":0.84,"y":-0.82},{"k":"g","x":1.08,"y":-1.26},{"k":"g","x":0.92,"y":-1.2},{"k":"g","x":1.24,"y":-1.12},{"k":"g","x":0.76,"y":-1.12},
{"k":"g","x":1.3,"y":-0.95},{"k":"g","x":0.7,"y":-0.95},{"k":"g","x":1.0,"y":-0.64},{"k":"g","x":1.18,"y":-0.62},{"k":"g","x":0.9,"y":-0.66},{"k":"g","x":1.26,"y":-1.32},{"k":"g","x":0.8,"y":-1.28},{"k":"g","x":1.05,"y":-1.36},{"k":"g","x":0.66,"y":-0.8},{"k":"g","x":1.34,"y":-0.8},
{"k":"g","x":0.64,"y":-1.2},{"k":"g","x":1.36,"y":-1.22},{"k":"g","x":0.88,"y":-1.4},{"k":"g","x":1.14,"y":-1.44},{"k":"g","x":0.98,"y":-0.74},
{"k":"g","x":1.27,"y":-0.71},{"k":"g","x":1.41,"y":-0.95},{"k":"g","x":1.56,"y":-1.14},{"k":"g","x":1.35,"y":-1.08},{"k":"g","x":0.17,"y":-1.0},{"k":"g","x":0.04,"y":-1.3}],
"pc":[
{"k":"r","x":-0.06,"y":0.95},{"k":"r","x":-0.03,"y":1.0},{"k":"r","x":0.0,"y":1.04},{"k":"r","x":0.03,"y":1.08},{"k":"r","x":0.06,"y":1.12},{"k":"r","x":0.02,"y":0.98},{"k":"r","x":-0.02,"y":1.06},{"k":"r","x":0.05,"y":1.03},{"k":"r","x":-0.05,"y":1.02},{"k":"r","x":0.0,"y":0.97},{"k":"r","x":0.04,"y":1.14},{"k":"r","x":0.08,"y":1.1},{"k":"r","x":-0.08,"y":0.96},{"k":"r","x":0.01,"y":1.1},
{"k":"b","x":-1.0,"y":-1.0},{"k":"b","x":-1.03,"y":-1.05},{"k":"b","x":-0.97,"y":-0.95},{"k":"b","x":-1.05,"y":-0.92},{"k":"b","x":-0.95,"y":-1.08},{"k":"b","x":-1.02,"y":-1.1},{"k":"b","x":-0.9,"y":-0.98},{"k":"b","x":-0.86,"y":-0.96},{"k":"b","x":-1.06,"y":-1.0},{"k":"b","x":-0.98,"y":-1.02},{"k":"b","x":-0.93,"y":-0.92},
{"k":"g","x":0.5,"y":-1.04},{"k":"g","x":0.8,"y":-1.0},{"k":"g","x":0.96,"y":-0.98},{"k":"g","x":1.04,"y":-1.02},{"k":"g","x":1.0,"y":-0.95},{"k":"g","x":1.0,"y":-1.05},{"k":"g","x":0.97,"y":-1.03},{"k":"g","x":1.03,"y":-0.97},{"k":"g","x":1.05,"y":-1.0},{"k":"g","x":1.0,"y":-1.0}],
"pd":[{"k":"r","x":0.0,"y":1.02},{"k":"b","x":-1.0,"y":-1.04},{"k":"g","x":1.0,"y":-1.0}]
},
"hconcat":[
{"width":203,"height":203,"resolve":{"axis":{"x":"independent","y":"independent"}},"layer":[
{"data":{"name":"ra"},"mark":{"type":"point","shape":"circle","filled":false,"opacity":1,"strokeWidth":1.2},
"encoding":{"x":{"field":"x","type":"quantitative","scale":{"domain":[-2.11,2.11],"nice":false,"zero":false},"axis":{"orient":"top","labels":false,"values":[-2,-1,0,1,2],"title":null}},
"y":{"field":"y","type":"quantitative","scale":{"domain":[-2.1,2.1],"nice":false,"zero":false},"axis":{"orient":"right","labels":false,"values":[-2,-1,0,1,2],"title":null}},
"size":{"field":"r","type":"quantitative","scale":{"type":"pow","exponent":2,"domain":[0,1],"range":[0,9254]},"legend":null},
"color":{"field":"l","type":"ordinal","scale":{"domain":[1,2,3,4,5,6,7],"range":["#3A2C8C","#1F5BD0","#1C86D6","#14A6C6","#6CBF8E","#EBB447","#F4EE2A"]},"legend":null}}},
{"data":{"name":"pa"},"mark":{"type":"point","shape":"circle","filled":true,"opacity":1,"stroke":"#000","strokeWidth":0.6,"size":34},
"encoding":{"x":{"field":"x","type":"quantitative","scale":{"domain":[-2.11,2.11],"nice":false,"zero":false},"axis":{"orient":"bottom","values":[-2,-1,0,1,2],"title":"(a)\u00a0 Iteration=0","titleFont":"Liberation Serif, Times New Roman, serif"}},
"y":{"field":"y","type":"quantitative","scale":{"domain":[-2.1,2.1],"nice":false,"zero":false},"axis":{"orient":"left","values":[-2,-1,0,1,2],"title":null}},
"fill":{"field":"k","type":"nominal","scale":{"domain":["r","b","g"],"range":["#D42020","#1C1CA8","#3CD43C"]},"legend":null}}}]},
{"width":203,"height":203,"resolve":{"axis":{"x":"independent","y":"independent"}},"layer":[
{"data":{"name":"rb"},"mark":{"type":"point","shape":"circle","filled":false,"opacity":1,"strokeWidth":1.2},
"encoding":{"x":{"field":"x","type":"quantitative","scale":{"domain":[-2.11,2.11],"nice":false,"zero":false},"axis":{"orient":"top","labels":false,"values":[-2,-1,0,1,2],"title":null}},
"y":{"field":"y","type":"quantitative","scale":{"domain":[-2.1,2.1],"nice":false,"zero":false},"axis":{"orient":"right","labels":false,"values":[-2,-1,0,1,2],"title":null}},
"size":{"field":"r","type":"quantitative","scale":{"type":"pow","exponent":2,"domain":[0,1],"range":[0,9254]},"legend":null},
"color":{"field":"l","type":"ordinal","scale":{"domain":[1,2,3,4,5,6,7],"range":["#3A2C8C","#1F5BD0","#1C86D6","#14A6C6","#6CBF8E","#EBB447","#F4EE2A"]},"legend":null}}},
{"data":{"name":"pb"},"mark":{"type":"point","shape":"circle","filled":true,"opacity":1,"stroke":"#000","strokeWidth":0.6,"size":34},
"encoding":{"x":{"field":"x","type":"quantitative","scale":{"domain":[-2.11,2.11],"nice":false,"zero":false},"axis":{"orient":"bottom","values":[-2,-1,0,1,2],"title":"(b)\u00a0 Iteration=1","titleFont":"Liberation Serif, Times New Roman, serif"}},
"y":{"field":"y","type":"quantitative","scale":{"domain":[-2.1,2.1],"nice":false,"zero":false},"axis":{"orient":"left","values":[-2,-1,0,1,2],"title":null}},
"fill":{"field":"k","type":"nominal","scale":{"domain":["r","b","g"],"range":["#D42020","#1C1CA8","#3CD43C"]},"legend":null}}}]},
{"width":203,"height":203,"resolve":{"axis":{"x":"independent","y":"independent"}},"layer":[
{"data":{"name":"rc"},"mark":{"type":"point","shape":"circle","filled":false,"opacity":1,"strokeWidth":1.2},
"encoding":{"x":{"field":"x","type":"quantitative","scale":{"domain":[-2.11,2.11],"nice":false,"zero":false},"axis":{"orient":"top","labels":false,"values":[-2,-1,0,1,2],"title":null}},
"y":{"field":"y","type":"quantitative","scale":{"domain":[-2.1,2.1],"nice":false,"zero":false},"axis":{"orient":"right","labels":false,"values":[-2,-1,0,1,2],"title":null}},
"size":{"field":"r","type":"quantitative","scale":{"type":"pow","exponent":2,"domain":[0,1],"range":[0,9254]},"legend":null},
"color":{"field":"l","type":"ordinal","scale":{"domain":[1,2,3,4,5,6,7],"range":["#3A2C8C","#1F5BD0","#1C86D6","#14A6C6","#6CBF8E","#EBB447","#F4EE2A"]},"legend":null}}},
{"data":{"name":"pc"},"mark":{"type":"point","shape":"circle","filled":true,"opacity":1,"stroke":"#000","strokeWidth":0.6,"size":34},
"encoding":{"x":{"field":"x","type":"quantitative","scale":{"domain":[-2.11,2.11],"nice":false,"zero":false},"axis":{"orient":"bottom","values":[-2,-1,0,1,2],"title":"(c)\u00a0 Iteration=3","titleFont":"Liberation Serif, Times New Roman, serif"}},
"y":{"field":"y","type":"quantitative","scale":{"domain":[-2.1,2.1],"nice":false,"zero":false},"axis":{"orient":"left","values":[-2,-1,0,1,2],"title":null}},
"fill":{"field":"k","type":"nominal","scale":{"domain":["r","b","g"],"range":["#D42020","#1C1CA8","#3CD43C"]},"legend":null}}}]},
{"width":203,"height":203,"resolve":{"axis":{"x":"independent","y":"independent"}},"layer":[
{"data":{"name":"rd"},"mark":{"type":"point","shape":"circle","filled":false,"opacity":1,"strokeWidth":1.2},
"encoding":{"x":{"field":"x","type":"quantitative","scale":{"domain":[-2.11,2.11],"nice":false,"zero":false},"axis":{"orient":"top","labels":false,"values":[-2,-1,0,1,2],"title":null}},
"y":{"field":"y","type":"quantitative","scale":{"domain":[-2.1,2.1],"nice":false,"zero":false},"axis":{"orient":"right","labels":false,"values":[-2,-1,0,1,2],"title":null}},
"size":{"field":"r","type":"quantitative","scale":{"type":"pow","exponent":2,"domain":[0,1],"range":[0,9254]},"legend":null},
"color":{"field":"l","type":"ordinal","scale":{"domain":[1,2,3,4,5,6,7],"range":["#3A2C8C","#1F5BD0","#1C86D6","#14A6C6","#6CBF8E","#EBB447","#F4EE2A"]},"legend":null}}},
{"data":{"name":"pd"},"mark":{"type":"point","shape":"circle","filled":true,"opacity":1,"stroke":"#000","strokeWidth":0.6,"size":34},
"encoding":{"x":{"field":"x","type":"quantitative","scale":{"domain":[-2.11,2.11],"nice":false,"zero":false},"axis":{"orient":"bottom","values":[-2,-1,0,1,2],"title":"(d)\u00a0 Iteration=10","titleFont":"Liberation Serif, Times New Roman, serif"}},
"y":{"field":"y","type":"quantitative","scale":{"domain":[-2.1,2.1],"nice":false,"zero":false},"axis":{"orient":"left","values":[-2,-1,0,1,2],"title":null}},
"fill":{"field":"k","type":"nominal","scale":{"domain":["r","b","g"],"range":["#D42020","#1C1CA8","#3CD43C"]},"legend":null}}}]}
]
}
